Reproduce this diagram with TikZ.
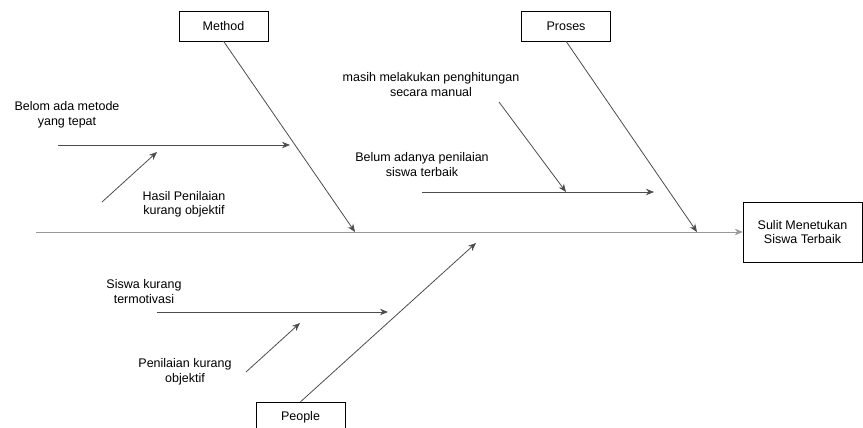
\documentclass[tikz,border=0pt]{standalone}
\usepackage{fontspec}
\setmainfont{Liberation Sans}
\usetikzlibrary{arrows.meta}

\begin{document}
\begin{tikzpicture}[x=1pt,y=-1pt,auto]
    \useasboundingbox (0,0) rectangle (863,428);
    \begin{scope}[every node/.style={rectangle,draw=black,minimum width=89pt,minimum height=30pt,font=\fontsize{12.5}{14.5}\selectfont}]
        \node (method) at (223.5,26) {Method};
        \node (proses) at (566,26) {Proses};
        \node (people) at (300.5,417) {People};
        \node[minimum width=119pt,minimum height=60pt,align=center] (effect) at (802.5,232) {Sulit Menetukan\\Siswa Terbaik};
    \end{scope}
    \begin{scope}[every node/.style={align=center,font=\fontsize{12.5}{14.5}\selectfont}]
        \node (metode) at (67,115) {Belom ada metode\\yang tepat};
        \node (hasil) at (184,204.5) {Hasil Penilaian\\kurang objektif};
        \node (manual) at (431,84.5) {masih melakukan penghitungan\\secara manual};
        \node (terbaik) at (422,164.5) {Belum adanya penilaian\\siswa terbaik};
        \node (motivasi) at (144,291.5) {Siswa kurang\\termotivasi};
        \node (objektif) at (185,372) {Penilaian kurang\\objektif};
    \end{scope}
    % free ends of the bones
    \coordinate (tail) at (36,232);
    \coordinate (m) at (355,232);
    \coordinate (p) at (697,232);
    \coordinate (q) at (476,243);
    \coordinate (m1a) at (58,145);
    \coordinate (m1b) at (290,145);
    \coordinate (m2a) at (102,202);
    \coordinate (m2b) at (157,152);
    \coordinate (p1a) at (422,192);
    \coordinate (p1b) at (654,192);
    \coordinate (p2a) at (499,102);
    \coordinate (p2b) at (566,192);
    \coordinate (q1a) at (157,312);
    \coordinate (q1b) at (388,312);
    \coordinate (q2a) at (246,372);
    \coordinate (q2b) at (300,323);
    \begin{scope}[every edge/.style={draw=black!70,line width=0.8pt,-{Stealth[length=8pt,width=6.5pt]}}]
        \draw (tail) edge[draw=black!40] (effect);
        \draw (method.south) edge (m);
        \draw (proses.south) edge (p);
        \draw (people.north) edge (q);
        \draw (m1a) edge (m1b);
        \draw (m2a) edge (m2b);
        \draw (p1a) edge (p1b);
        \draw (p2a) edge (p2b);
        \draw (q1a) edge (q1b);
        \draw (q2a) edge (q2b);
    \end{scope}
\end{tikzpicture}
\end{document}
